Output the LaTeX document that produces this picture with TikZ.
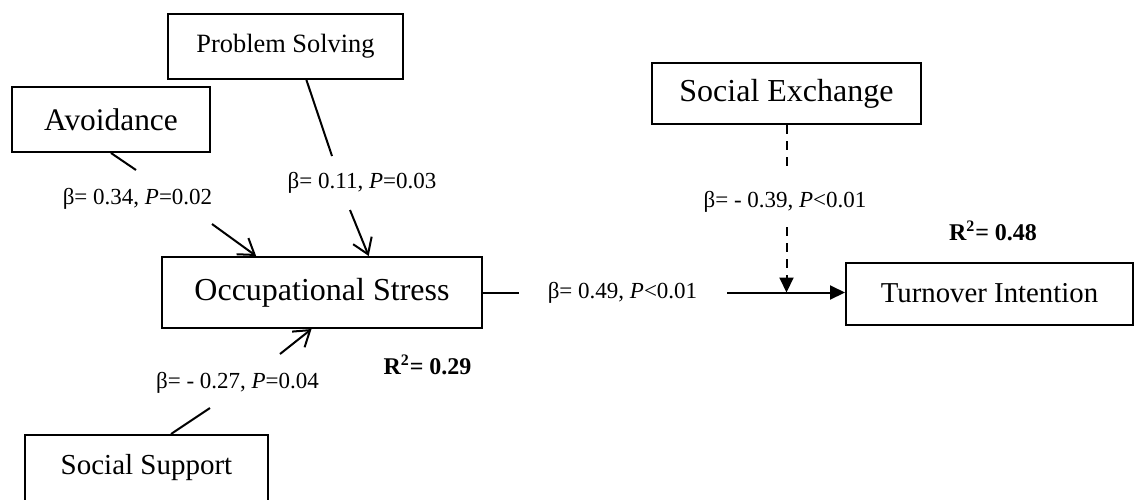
\documentclass[tikz,border=0pt]{standalone}
\usepackage{fontspec}
\setmainfont{Liberation Serif}
\usetikzlibrary{arrows.meta}

\begin{document}
\begin{tikzpicture}[x=0.5pt,y=-0.5pt,line width=1pt,
                    >={Straight Barb[length=7.5pt,width=10pt,line width=1pt]}]
  \tikzstyle{box}=[draw,rectangle,inner sep=0pt,line width=1pt]
  \tikzstyle{coef}=[font=\fontsize{11.5}{13}\selectfont,inner sep=1pt]
  \tikzstyle{rsq}=[font=\fontsize{12}{14}\selectfont\bfseries,inner sep=1pt]
  \tikzstyle{tri}=[-{Triangle[length=7.5pt,width=7pt]}]
  \tikzstyle{modline}=[dash pattern=on 4.5pt off 3.5pt]

  \useasboundingbox (0,0) rectangle (1135,499);
  \clip (0,0) rectangle (1135,499);

  % boxes
  \node[box,minimum width=117.5pt,minimum height=32.5pt,
        font=\fontsize{13.2}{15}\selectfont] (PS) at (285.5,46.5) {Problem Solving};
  \node[box,minimum width=99pt,minimum height=32.5pt,
        font=\fontsize{15.7}{18}\selectfont] (A) at (111,119.5) {Avoidance};
  \node[box,minimum width=160pt,minimum height=35.5pt,
        font=\fontsize{16}{18}\selectfont] (O) at (322,292.5) {Occupational Stress};
  \node[box,minimum width=121.5pt,text height=19.75pt,text depth=21.75pt,
        font=\fontsize{14.5}{17}\selectfont] (S) at (146.5,476.5) {Social Support};
  \node[box,minimum width=134.5pt,minimum height=30.5pt,
        font=\fontsize{16}{18}\selectfont] (E) at (786.5,93.5) {Social Exchange};
  \node[box,minimum width=143.5pt,minimum height=31pt,
        font=\fontsize{14.4}{17}\selectfont] (T) at (989.5,293.5) {Turnover Intention};

  % ends of the broken connectors
  \coordinate (a1) at (136,170);
  \coordinate (a2) at (212,224);
  \coordinate (p1) at (332,156);
  \coordinate (p2) at (350,210);
  \coordinate (s1) at (210,408);
  \coordinate (s2) at (280,354);
  \coordinate (h1) at (519,292.5);
  \coordinate (h2) at (727,292.5);
  \coordinate (e1) at (786.5,170);
  \coordinate (e2) at (786.5,227);
  \coordinate (m)  at (786.5,292.5);

  % connectors
  \draw (A.south) -- (a1);
  \draw[->] (a2) -- (O.151);
  \draw (PS.-58) -- (p1);
  \draw[->] (p2) -- (O.38);
  \draw (S.60) -- (s1);
  \draw[->] (s2) -- (O.-106);
  \draw (O.east) -- (h1);
  \draw[tri] (h2) -- (T.west |- h2);
  \draw[modline] (E.south) -- (e1);
  \draw[modline,tri] (e2) -- (m);

  % labels
  \node[coef] (c1) at (137.5,199) {β= 0.34, \textit{P}=0.02};
  \node[coef] (c2) at (362,183) {β= 0.11, \textit{P}=0.03};
  \node[coef] (c3) at (237.5,383) {β= - 0.27, \textit{P}=0.04};
  \node[coef] (c4) at (622.5,292.5) {β= 0.49, \textit{P}<0.01};
  \node[coef] (c5) at (785,202) {β= - 0.39, \textit{P}<0.01};
  \node[rsq] (r1) at (427.5,365) {R\textsuperscript{2}= 0.29};
  \node[rsq] (r2) at (993,231) {R\textsuperscript{2}= 0.48};
\end{tikzpicture}
\end{document}
